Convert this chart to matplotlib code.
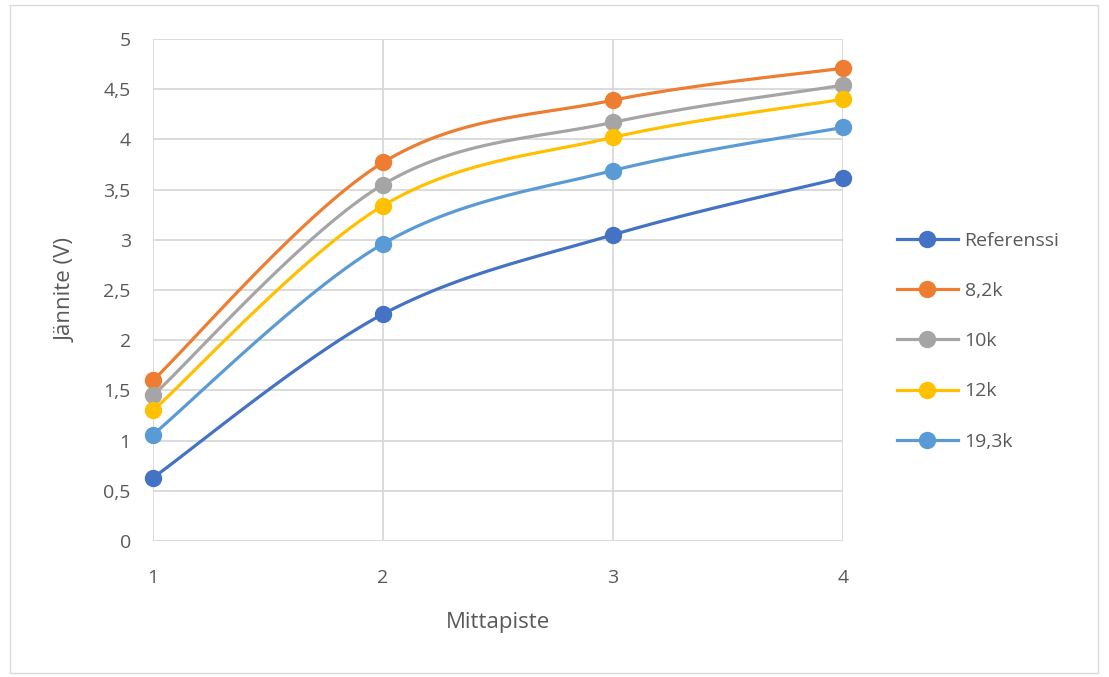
import numpy as np
import matplotlib
matplotlib.use("Agg")
import matplotlib.pyplot as plt
from matplotlib.patches import Rectangle
from matplotlib.ticker import FuncFormatter, MultipleLocator
from matplotlib.lines import Line2D

# Measurement points and voltages
points = [1, 2, 3, 4]
series_names = ["Referenssi", "8,2k", "10k", "12k", "19,3k"]
referenssi = [0.63, 2.26, 3.05, 3.62]
r_8k2 = [1.60, 3.77, 4.39, 4.71]
r_10k = [1.45, 3.55, 4.17, 4.54]
r_12k = [1.30, 3.34, 4.02, 4.40]
r_19k3 = [1.06, 2.96, 3.69, 4.12]
colors = ["#4472C4", "#ED7D31", "#A5A5A5", "#FFC000", "#5B9BD5"]

plt.rcParams["font.family"] = ["Open Sans", "DejaVu Sans"]

W, H = 1109, 677
fig = plt.figure(figsize=(W / 100, H / 100), dpi=100)
fig.patches.append(Rectangle((10 / W, 4 / H), 1088 / W, 668 / H, transform=fig.transFigure,
                             fill=False, edgecolor="#d9d9d9", linewidth=1.0))

ax = fig.add_axes([153 / W, 1 - 541 / H, 690 / W, 502 / H])
ax.set_xlim(1, 4)
ax.set_ylim(0, 5)
ax.xaxis.set_major_locator(MultipleLocator(1))
ax.yaxis.set_major_locator(MultipleLocator(0.5))


def comma(v, pos):
    s = f"{v:.1f}".rstrip("0").rstrip(".")
    return s.replace(".", ",")


ax.yaxis.set_major_formatter(FuncFormatter(comma))
ax.xaxis.set_major_formatter(FuncFormatter(lambda v, p: f"{int(v)}"))
ax.grid(True, color="#d9d9d9", linewidth=1.3)
ax.set_axisbelow(True)
for s in ax.spines.values():
    s.set_visible(False)
ax.tick_params(length=0, labelsize=14, labelcolor="#595959")
ax.tick_params(axis="x", pad=20)
ax.tick_params(axis="y", pad=16)
ax.set_xlabel("Mittapiste", fontsize=16, color="#595959", labelpad=18)
ax.set_ylabel("Jännite (V)", fontsize=16, color="#595959", labelpad=19)


def smooth(xs, ys, n=40):
    """Bezier smoothing in display space (Catmull-Rom style control points)."""
    pts = ax.transData.transform(np.column_stack([xs, ys]))
    out = []
    m = len(pts)
    for i in range(m - 1):
        p0 = pts[max(i - 1, 0)]
        p1 = pts[i]
        p2 = pts[i + 1]
        p3 = pts[min(i + 2, m - 1)]
        c1 = p1 + (p2 - p0) / 6.0
        c2 = p2 - (p3 - p1) / 6.0
        t = np.linspace(0, 1, n)[:, None]
        seg = ((1 - t) ** 3) * p1 + 3 * ((1 - t) ** 2) * t * c1 + 3 * (1 - t) * t ** 2 * c2 + t ** 3 * p2
        out.append(seg if i == 0 else seg[1:])
    seg = np.vstack(out)
    return ax.transData.inverted().transform(seg)


all_series = [referenssi, r_8k2, r_10k, r_12k, r_19k3]
for vals, col in zip(all_series, colors):
    curve = smooth(points, vals)
    ax.plot(curve[:, 0], curve[:, 1], color=col, linewidth=2.3, solid_capstyle="round", clip_on=False)
    ax.plot(points, vals, "o", color=col, markersize=11.5, clip_on=False, zorder=3)

handles = [Line2D([0], [0], color=c, linewidth=2.3, marker="o", markersize=11.5) for c in colors]
fig.legend(handles, series_names, loc="upper left", bbox_to_anchor=(879 / W, 1 - 214 / H),
           frameon=False, fontsize=14, labelcolor="#595959", handlelength=3.15,
           handletextpad=0.35, labelspacing=1.66)

fig.savefig("out.png", dpi=100)
